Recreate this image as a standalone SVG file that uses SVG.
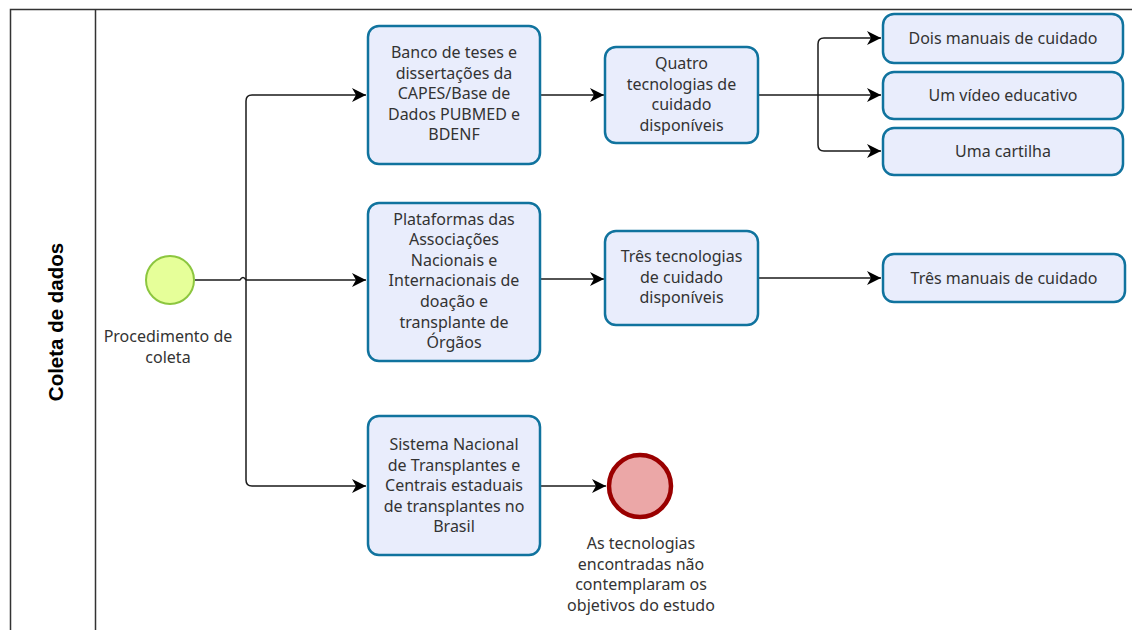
<svg xmlns="http://www.w3.org/2000/svg" width="1132" height="630" viewBox="0 0 1132 630">
<defs>
<style>
.lane{fill:none;stroke:#333;stroke-width:1.5}
.box{fill:#e9edfc;stroke:#10739e;stroke-width:2.5}
.t{font-family:"Noto Sans","Open Sans",sans-serif;font-size:16px;fill:#333;text-anchor:middle}
.c{fill:none;stroke:#1a1a1a;stroke-width:1.5}
.lt{font-family:"Liberation Sans",Arial,sans-serif;font-size:20.5px;font-weight:bold;fill:#000;text-anchor:middle}
</style>
<marker id="arr" markerUnits="userSpaceOnUse" markerWidth="16" markerHeight="14" refX="14" refY="7" orient="auto">
<path d="M0,0 L14,7 L0,14 L4,7 Z" fill="#000"/>
</marker>
</defs>
<rect width="1132" height="630" fill="#fff"/>
<g id="lane">
<path class="lane" d="M10.5,630 V9.5 H1132"/>
<path class="lane" d="M95.5,9.5 V630"/>
<text class="lt" transform="translate(63,322) rotate(-90)">Coleta de dados</text>
</g>
<g id="connectors">
<path class="c" d="M195,280 H240 M240,280 Q243,275 246,280 M246,280 H366" marker-end="url(#arr)"/>
<path class="c" d="M246,280 V101 Q246,95 252,95 H366" marker-end="url(#arr)"/>
<path class="c" d="M246,280 V480 Q246,486 252,486 H366" marker-end="url(#arr)"/>
<path class="c" d="M540,95 H604" marker-end="url(#arr)"/>
<path class="c" d="M758,95 H881" marker-end="url(#arr)"/>
<path class="c" d="M818,95 V44 Q818,38 824,38 H881" marker-end="url(#arr)"/>
<path class="c" d="M818,95 V145 Q818,151 824,151 H881" marker-end="url(#arr)"/>
<path class="c" d="M540,279 H604" marker-end="url(#arr)"/>
<path class="c" d="M758,278 H881" marker-end="url(#arr)"/>
<path class="c" d="M540,486 H606" marker-end="url(#arr)"/>
</g>
<g id="start">
<circle cx="170" cy="280" r="24" fill="#e6ff99" stroke="#8cc63f" stroke-width="2"/>
<text class="t" x="168" y="342">Procedimento de</text>
<text class="t" x="168" y="363">coleta</text>
</g>
<g id="banco">
<rect class="box" x="368" y="26" width="172" height="138" rx="11"/>
<text class="t" x="454" y="58">Banco de teses e</text>
<text class="t" x="454" y="78.6">dissertações da</text>
<text class="t" x="454" y="99.2">CAPES/Base de</text>
<text class="t" x="454" y="119.8">Dados PUBMED e</text>
<text class="t" x="454" y="140.4">BDENF</text>
</g>
<g id="quatro">
<rect class="box" x="605" y="47" width="153" height="96" rx="11"/>
<text class="t" x="681.5" y="69">Quatro</text>
<text class="t" x="681.5" y="89.6">tecnologias de</text>
<text class="t" x="681.5" y="110.2">cuidado</text>
<text class="t" x="681.5" y="130.8">disponíveis</text>
</g>
<g id="dois">
<rect class="box" x="883" y="14" width="240" height="49" rx="11"/>
<text class="t" x="1003" y="44">Dois manuais de cuidado</text>
</g>
<g id="video">
<rect class="box" x="883" y="72" width="240" height="47" rx="11"/>
<text class="t" x="1003" y="101">Um vídeo educativo</text>
</g>
<g id="cartilha">
<rect class="box" x="883" y="128" width="240" height="47" rx="11"/>
<text class="t" x="1003" y="157">Uma cartilha</text>
</g>
<g id="plataformas">
<rect class="box" x="368" y="203" width="172" height="158" rx="11"/>
<text class="t" x="454" y="224.5">Plataformas das</text>
<text class="t" x="454" y="245.1">Associações</text>
<text class="t" x="454" y="265.7">Nacionais e</text>
<text class="t" x="454" y="286.3">Internacionais de</text>
<text class="t" x="454" y="306.9">doação e</text>
<text class="t" x="454" y="327.5">transplante de</text>
<text class="t" x="454" y="348.1">Órgãos</text>
</g>
<g id="tres">
<rect class="box" x="605" y="231" width="153" height="94" rx="11"/>
<text class="t" x="681.5" y="262">Três tecnologias</text>
<text class="t" x="681.5" y="282.6">de cuidado</text>
<text class="t" x="681.5" y="303.2">disponíveis</text>
</g>
<g id="tresmanuais">
<rect class="box" x="883" y="254" width="242" height="48" rx="11"/>
<text class="t" x="1004" y="284">Três manuais de cuidado</text>
</g>
<g id="sistema">
<rect class="box" x="368" y="416" width="172" height="139" rx="11"/>
<text class="t" x="454" y="450">Sistema Nacional</text>
<text class="t" x="454" y="470.6">de Transplantes e</text>
<text class="t" x="454" y="491.2">Centrais estaduais</text>
<text class="t" x="454" y="511.8">de transplantes no</text>
<text class="t" x="454" y="532.4">Brasil</text>
</g>
<g id="end">
<circle cx="640" cy="486" r="31" fill="#eba7a7" stroke="#9a0000" stroke-width="4.5"/>
<text class="t" x="641" y="549">As tecnologias</text>
<text class="t" x="641" y="569.6">encontradas não</text>
<text class="t" x="641" y="590.2">contemplaram os</text>
<text class="t" x="641" y="610.8">objetivos do estudo</text>
</g>
</svg>
